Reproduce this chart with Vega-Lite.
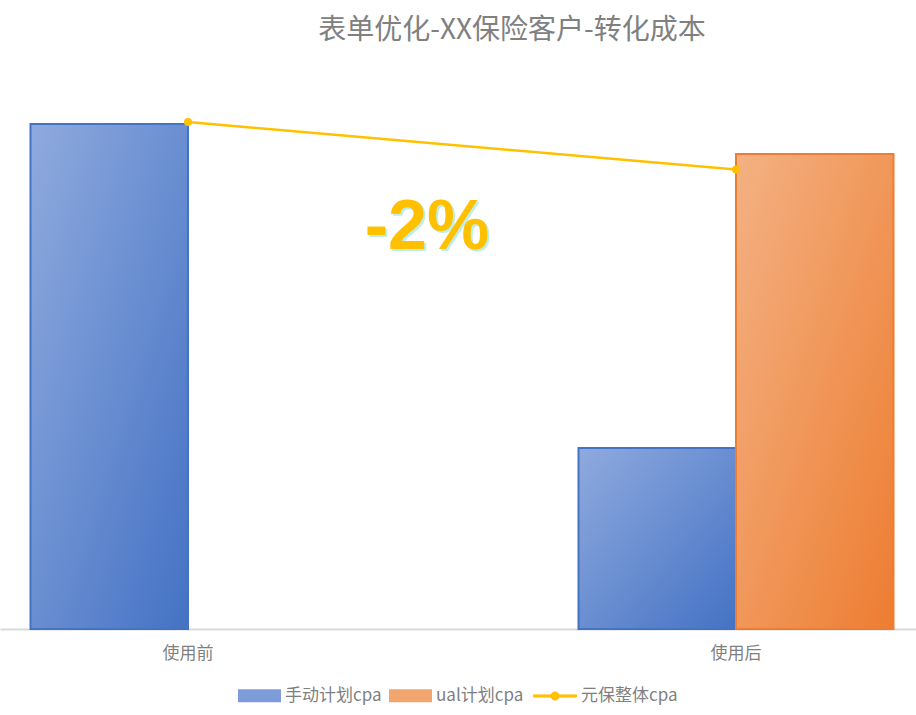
{
  "$schema": "https://vega.github.io/schema/vega-lite/v6.json",
  "width": 916,
  "height": 560,
  "autosize": {"type": "none"},
  "padding": {"left": 0, "top": 69, "right": 0, "bottom": 86},
  "background": "white",
  "config": {"view": {"stroke": null}},
  "title": {
    "text": "表单优化-XX保险客户-转化成本",
    "font": "Noto Sans CJK SC",
    "fontSize": 28,
    "fontWeight": "normal",
    "color": "#808080",
    "anchor": "middle",
    "dx": 54,
    "offset": -4,
    "baseline": "bottom"
  },
  "data": {
    "values": [
      {"phase": "使用前", "series": "手动计划cpa", "kind": "bar", "cpa": 50.5},
      {"phase": "使用后", "series": "手动计划cpa", "kind": "bar", "cpa": 18.1},
      {"phase": "使用后", "series": "ual计划cpa", "kind": "bar", "cpa": 47.5},
      {"phase": "使用前", "series": "元保整体cpa", "kind": "line", "cpa": 50.7},
      {"phase": "使用后", "series": "元保整体cpa", "kind": "line", "cpa": 45.95},
      {"phase": "使用前", "series": "元保整体cpa", "kind": "note", "label": "-2%", "cpa": 40.1}
    ]
  },
  "layer": [
    {
      "transform": [{"filter": "datum.kind === 'bar'"}],
      "mark": {"type": "bar"},
      "encoding": {
        "x": {
          "field": "phase",
          "type": "nominal",
          "scale": {"domain": ["使用前", "使用后"], "paddingInner": 0.4, "paddingOuter": 0.03575, "align": 0.602},
          "axis": {
            "title": null,
            "labelAngle": 0,
            "labelFont": "Noto Sans CJK SC",
            "labelFontSize": 17,
            "labelColor": "#7F7F7F",
            "labelPadding": 8,
            "domainColor": "#D9D9D9",
            "domainWidth": 2,
            "tickColor": "#D9D9D9",
            "tickSize": 8,
            "tickOpacity": 0,
            "grid": false
          }
        },
        "xOffset": {
          "field": "series",
          "type": "nominal",
          "scale": {"domain": ["手动计划cpa", "ual计划cpa"], "paddingInner": 0, "paddingOuter": 0.0438}
        },
        "y": {
          "field": "cpa",
          "type": "quantitative",
          "scale": {"domain": [0, 56], "nice": false},
          "axis": null
        },
        "fill": {
          "field": "series",
          "type": "nominal",
          "scale": {"domain": ["手动计划cpa", "ual计划cpa"], "range": ["#7E9CD9", "#F2A56E"]},
          "legend": {
            "title": null,
            "orient": "none",
            "legendX": 238,
            "legendY": 605,
            "direction": "horizontal",
            "symbolType": "M-1,-0.3H1V0.3H-1Z",
            "symbolSize": 1849,
            "symbolStrokeWidth": 0,
            "labelFont": "Noto Sans CJK SC",
            "labelFontSize": 17,
            "labelColor": "#7F7F7F",
            "labelOffset": 4,
            "columnPadding": 7
          }
        }
      }
    },
    {
      "transform": [{"filter": "datum.series === '手动计划cpa'"}],
      "mark": {
        "type": "bar",
        "strokeWidth": 2,
        "stroke": "#4472C4",
        "fill": {"gradient": "linear", "x1": 0, "y1": 0, "x2": 1, "y2": 1,
          "stops": [{"offset": 0, "color": "#8FAADE"}, {"offset": 1, "color": "#4472C4"}]}
      },
      "encoding": {
        "x": {"field": "phase", "type": "nominal"},
        "xOffset": {"field": "series", "type": "nominal"},
        "y": {"field": "cpa", "type": "quantitative"}
      }
    },
    {
      "transform": [{"filter": "datum.series === 'ual计划cpa'"}],
      "mark": {
        "type": "bar",
        "strokeWidth": 2,
        "stroke": "#ED7D31",
        "fill": {"gradient": "linear", "x1": 0, "y1": 0, "x2": 1, "y2": 1,
          "stops": [{"offset": 0, "color": "#F4B183"}, {"offset": 1, "color": "#ED7D31"}]}
      },
      "encoding": {
        "x": {"field": "phase", "type": "nominal"},
        "xOffset": {"field": "series", "type": "nominal"},
        "y": {"field": "cpa", "type": "quantitative"}
      }
    },
    {
      "transform": [{"filter": "datum.kind === 'line'"}],
      "mark": {"type": "line", "strokeWidth": 2.5, "point": {"filled": true, "size": 64}},
      "encoding": {
        "x": {"field": "phase", "type": "nominal"},
        "y": {"field": "cpa", "type": "quantitative"},
        "color": {
          "field": "series",
          "type": "nominal",
          "scale": {"domain": ["元保整体cpa"], "range": ["#FFC000"]},
          "legend": {
            "title": null,
            "orient": "none",
            "legendX": 533,
            "legendY": 605,
            "direction": "horizontal",
            "symbolType": "M-1,-0.05H1V0.05H-1Z M-0.19,0A0.19,0.19,0,1,1,0.19,0A0.19,0.19,0,1,1,-0.19,0Z",
            "symbolSize": 1849,
            "symbolStrokeWidth": 1,
            "symbolFillColor": "#FFC000",
            "labelFont": "Noto Sans CJK SC",
            "labelFontSize": 17,
            "labelColor": "#7F7F7F",
            "labelOffset": 4
          }
        }
      }
    },
    {
      "transform": [{"filter": "datum.kind === 'note'"}],
      "mark": {"type": "text", "font": "Liberation Sans", "fontSize": 70, "fontWeight": "bold", "color": "#BDEEE8", "dx": 241, "dy": 2, "baseline": "middle"},
      "encoding": {
        "x": {"field": "phase", "type": "nominal"},
        "y": {"field": "cpa", "type": "quantitative"},
        "text": {"field": "label"}
      }
    },
    {
      "transform": [{"filter": "datum.kind === 'note'"}],
      "mark": {"type": "text", "font": "Liberation Sans", "fontSize": 70, "fontWeight": "bold", "color": "#FFC000", "dx": 239, "baseline": "middle"},
      "encoding": {
        "x": {"field": "phase", "type": "nominal"},
        "y": {"field": "cpa", "type": "quantitative"},
        "text": {"field": "label"}
      }
    }
  ]
}
